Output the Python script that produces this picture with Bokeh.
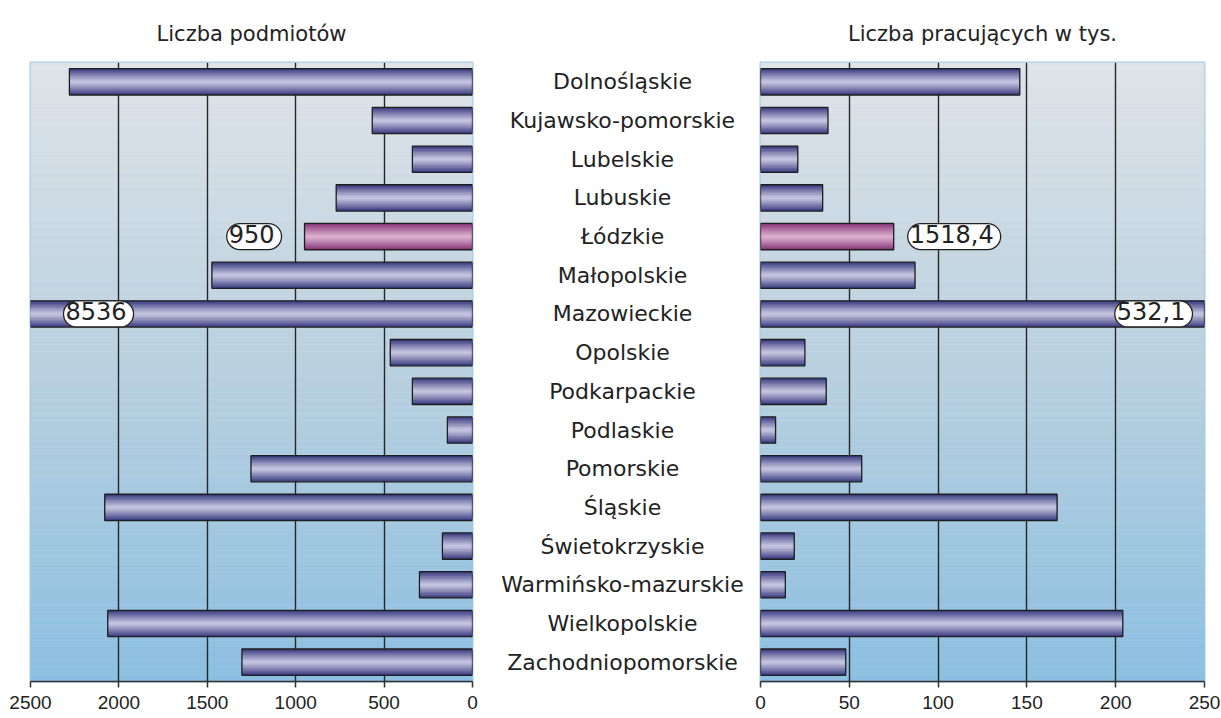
import numpy as np
from bokeh.plotting import figure
from bokeh.models import FactorRange, Range1d, FixedTicker
from bokeh.layouts import row
from bokeh.embed import file_html
from bokeh.resources import INLINE
from bokeh.core.properties import value

# ---------------- data ----------------
regions = ["Dolnośląskie", "Kujawsko-pomorskie", "Lubelskie", "Lubuskie", "Łódzkie",
           "Małopolskie", "Mazowieckie", "Opolskie", "Podkarpackie", "Podlaskie",
           "Pomorskie", "Śląskie", "Świetokrzyskie", "Warmińsko-mazurskie",
           "Wielkopolskie", "Zachodniopomorskie"]
entities = [2280, 567, 340, 771, 950, 1474, 8536, 465, 340, 142, 1253, 2080, 170, 300, 2063, 1304]
workers = [146, 38, 21, 35, 75, 87, 532.1, 25, 37, 8.5, 57, 167, 19, 14, 204, 48]
left_ticks = [0, 500, 1000, 1500, 2000, 2500]
right_ticks = [0, 50, 100, 150, 200, 250]
left_title = "Liczba podmiotów"
right_title = "Liczba pracujących w tys."
highlight = "Łódzkie"
left_callout_regions = ["Łódzkie", "Mazowieckie"]
left_callout_texts = ["950", "8536"]
right_callout_regions = ["Łódzkie", "Mazowieckie"]
right_callout_texts = ["1518,4", "532,1"]

# ---------------- style ----------------
FONT = "Liberation Sans"
WFONT = "DejaVu Sans"
TOP, FRAME_H, BOTTOM = 62, 619, 36
H = TOP + FRAME_H + BOTTOM
BAR_H = 0.68
BG_TOP = (222, 227, 232)
BG_MID = (184, 208, 223)
BG_BOT = (140, 191, 225)
BLUE_DARK, BLUE_LIGHT = (60, 60, 130), (194, 194, 222)
PINK_DARK, PINK_LIGHT = (136, 56, 120), (218, 172, 206)

yr = FactorRange(factors=regions[::-1], range_padding=0)


def mix(a, b, t):
    return "#%02x%02x%02x" % tuple(int(round(a[i] + (b[i] - a[i]) * t)) for i in range(3))


def bg_color(t):  # t: 0 bottom -> 1 top
    if t < 0.5:
        return mix(BG_BOT, BG_MID, t / 0.5)
    return mix(BG_MID, BG_TOP, (t - 0.5) / 0.5)


def make_panel(xmin, xmax, reversed_, vals, ticks, title, callout_regions, callout_texts,
               width, bl, br, gap, inset):
    xr = Range1d(xmax, xmin) if reversed_ else Range1d(xmin, xmax)
    p = figure(width=width, height=H, x_range=xr, y_range=yr, output_backend="svg",
               toolbar_location=None, min_border_left=bl, min_border_right=br,
               min_border_top=TOP, min_border_bottom=BOTTOM)
    p.title.text = title
    p.title.align = "center"
    p.title.text_font = WFONT
    p.title.text_font_size = "21px"
    p.title.text_font_style = "normal"
    p.title.text_color = "#222222"
    p.title.standoff = 33
    p.background_fill_color = None
    p.border_fill_color = "white"
    p.outline_line_color = "#9fcbe6"
    p.outline_line_width = 2

    # background gradient bands
    n = len(regions)
    nb = 90
    edges = np.linspace(0, n, nb + 1)
    cols = [bg_color((edges[i] + edges[i + 1]) / 2 / n) for i in range(nb)]
    bg = p.quad(left=xmin, right=xmax, bottom=edges[:-1], top=edges[1:], fill_color=cols,
                line_color=cols, line_width=0.5)
    bg.level = "image"

    # grid
    p.xgrid.ticker = FixedTicker(ticks=ticks[1:-1])
    p.xgrid.grid_line_color = "#262626"
    p.xgrid.grid_line_width = 1.4
    p.xgrid.level = "underlay"
    p.ygrid.visible = False

    # gradient bars
    L = 9
    for k in range(L):
        t = (k / (L - 1)) ** 0.9
        h = BAR_H * (1 - k / L)
        fc = [mix(PINK_DARK, PINK_LIGHT, t) if r == highlight else mix(BLUE_DARK, BLUE_LIGHT, t)
              for r in regions]
        p.hbar(y=regions, left=0, right=vals, height=h, fill_color=fc, line_color=None)
    p.hbar(y=regions, left=0, right=vals, height=BAR_H, fill_color=None,
           line_color="#1e1e1e", line_width=1.3)

    # callouts
    d = -1 if reversed_ else 1
    for reg, txt in zip(callout_regions, callout_texts):
        v = vals[regions.index(reg)]
        if v > xmax:
            x = xmax
            align = "right" if d > 0 else "left"
            off = -d * inset
        else:
            x = v
            align = "left" if d > 0 else "right"
            off = d * gap
        p.text(x=[x], y=[reg], text=[txt], text_align=align, text_baseline="middle",
               x_offset=off, text_font=value(WFONT), text_font_size="24px", text_color="#222222",
               background_fill_color="white", border_line_color="#222222", border_line_width=1.3,
               padding=[2, 7, 1, 7], border_radius=14)

    # axes
    p.yaxis.visible = False
    ax = p.xaxis[0]
    ax.ticker = FixedTicker(ticks=ticks)
    ax.axis_line_color = "#333333"
    ax.axis_line_width = 1.5
    ax.major_tick_line_color = "#333333"
    ax.major_tick_line_width = 1.5
    ax.major_tick_out = 6
    ax.major_tick_in = 0
    ax.minor_tick_line_color = None
    ax.major_label_text_font = FONT
    ax.major_label_text_font_size = "19px"
    ax.major_label_text_color = "#222222"
    ax.major_label_standoff = 8
    return p


left = make_panel(0, 2500, True, entities, left_ticks, left_title, left_callout_regions,
                  left_callout_texts, width=480, bl=30, br=8, gap=23, inset=33)

mid = figure(width=272, height=H, x_range=Range1d(-1, 1), y_range=yr, output_backend="svg",
             toolbar_location=None, min_border_left=0, min_border_right=0,
             min_border_top=TOP, min_border_bottom=BOTTOM)
mid.axis.visible = False
mid.grid.visible = False
mid.outline_line_color = None
mid.background_fill_color = None
mid.border_fill_color = "white"
mid.text(x=0, y=regions, text=regions, text_align="center", text_baseline="middle",
         x_offset=6, text_font=value(WFONT), text_font_size="22px", text_color="#222222")

right = make_panel(0, 250, False, workers, right_ticks, right_title, right_callout_regions,
                   right_callout_texts, width=469, bl=8, br=17, gap=14, inset=12)

layout = row(left, mid, right, spacing=0)
open("out.html", "w").write(file_html(layout, INLINE))
